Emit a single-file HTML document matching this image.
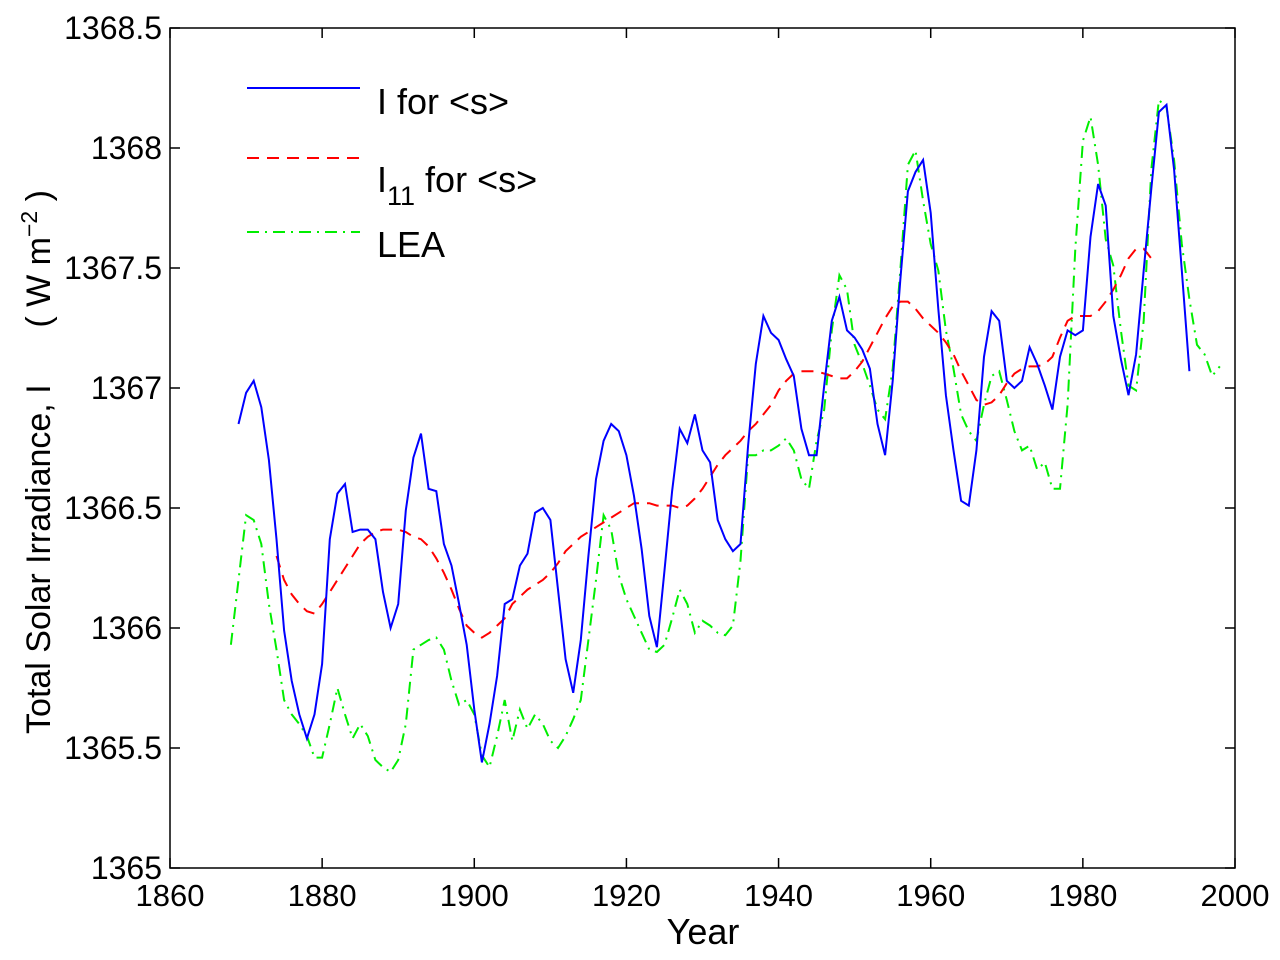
<!DOCTYPE html>
<html><head><meta charset="utf-8"><style>
html,body{margin:0;padding:0;background:#fff;}
svg text{font-family:"Liberation Sans",Arial,sans-serif;fill:#000;}
</style></head><body>
<svg id="chart" width="1280" height="955" viewBox="0 0 1280 955" xmlns="http://www.w3.org/2000/svg">
<rect x="0" y="0" width="1280" height="955" fill="#fff"/>
<g id="ticks"></g>
<g id="series"></g>
<rect x="170" y="28" width="1065" height="840" fill="none" stroke="#000" stroke-width="1.5"/>
<text x="703" y="944" font-size="36" text-anchor="middle">Year</text>
<text transform="translate(50,462) rotate(-90)" font-size="34" text-anchor="middle" style="white-space:pre" xml:space="preserve">Total Solar Irradiance, I      ( W m<tspan dy="-13" font-size="23">−2</tspan><tspan dy="13"> )</tspan></text>
<g>
<line x1="247" y1="88" x2="360" y2="88" stroke="#0000ff" stroke-width="2"/>
<text x="377" y="114" font-size="36">I for &lt;s&gt;</text>
<line x1="247" y1="158" x2="360" y2="158" stroke="#ff0000" stroke-width="2" stroke-dasharray="12,8"/>
<text x="377" y="192" font-size="36">I<tspan dy="13" font-size="27">11</tspan><tspan dy="-13"> for &lt;s&gt;</tspan></text>
<line x1="247" y1="232" x2="360" y2="232" stroke="#00ee00" stroke-width="2" stroke-dasharray="12,6,2,6"/>
<text x="377" y="257" font-size="36">LEA</text>
</g>
</svg>
<script>
const xTicks=[1860,1880,1900,1920,1940,1960,1980,2000];
const yTicks=[1365,1365.5,1366,1366.5,1367,1367.5,1368,1368.5];
const yearsI=[];for(let y=1869;y<=1994;y++)yearsI.push(y);
const valuesI=[1366.85,1366.98,1367.03,1366.92,1366.70,1366.37,1365.99,1365.78,1365.64,1365.54,1365.64,1365.85,1366.37,1366.56,1366.60,1366.40,1366.41,1366.41,1366.37,1366.15,1366.00,1366.10,1366.49,1366.71,1366.81,1366.58,1366.57,1366.35,1366.26,1366.10,1365.93,1365.66,1365.44,1365.60,1365.80,1366.10,1366.12,1366.26,1366.31,1366.48,1366.50,1366.45,1366.16,1365.87,1365.73,1365.95,1366.30,1366.62,1366.78,1366.85,1366.82,1366.72,1366.55,1366.33,1366.05,1365.92,1366.24,1366.57,1366.83,1366.77,1366.89,1366.74,1366.69,1366.45,1366.37,1366.32,1366.35,1366.76,1367.10,1367.30,1367.23,1367.20,1367.12,1367.05,1366.83,1366.72,1366.72,1367.01,1367.28,1367.38,1367.24,1367.21,1367.16,1367.08,1366.85,1366.72,1367.03,1367.45,1367.82,1367.90,1367.95,1367.73,1367.33,1366.97,1366.74,1366.53,1366.51,1366.74,1367.13,1367.32,1367.28,1367.03,1367.00,1367.03,1367.17,1367.10,1367.01,1366.91,1367.13,1367.24,1367.22,1367.24,1367.63,1367.85,1367.76,1367.30,1367.12,1366.97,1367.14,1367.49,1367.83,1368.15,1368.18,1367.91,1367.49,1367.07];
const yearsI11=[];for(let y=1874;y<=1989;y++)yearsI11.push(y);
const valuesI11=[1366.30,1366.20,1366.14,1366.10,1366.07,1366.06,1366.10,1366.15,1366.20,1366.25,1366.30,1366.35,1366.38,1366.40,1366.41,1366.41,1366.41,1366.40,1366.38,1366.37,1366.34,1366.29,1366.23,1366.16,1366.08,1366.01,1365.98,1365.96,1365.98,1366.01,1366.04,1366.10,1366.13,1366.16,1366.18,1366.20,1366.23,1366.27,1366.32,1366.35,1366.38,1366.40,1366.42,1366.44,1366.46,1366.48,1366.50,1366.52,1366.52,1366.52,1366.51,1366.51,1366.51,1366.50,1366.51,1366.54,1366.58,1366.63,1366.68,1366.72,1366.75,1366.78,1366.82,1366.85,1366.89,1366.93,1366.99,1367.03,1367.06,1367.07,1367.07,1367.07,1367.06,1367.05,1367.04,1367.04,1367.07,1367.11,1367.17,1367.23,1367.29,1367.34,1367.36,1367.36,1367.33,1367.29,1367.26,1367.23,1367.19,1367.14,1367.07,1367.01,1366.95,1366.93,1366.94,1366.97,1367.02,1367.06,1367.08,1367.09,1367.09,1367.10,1367.13,1367.21,1367.28,1367.30,1367.30,1367.30,1367.32,1367.36,1367.41,1367.47,1367.54,1367.58,1367.58,1367.54];
const yearsLEA=[];for(let y=1868;y<=1998;y++)yearsLEA.push(y);
const valuesLEA=[1365.93,1366.20,1366.47,1366.45,1366.35,1366.10,1365.91,1365.70,1365.64,1365.60,1365.55,1365.46,1365.46,1365.60,1365.75,1365.64,1365.54,1365.60,1365.55,1365.45,1365.42,1365.40,1365.45,1365.60,1365.91,1365.93,1365.95,1365.96,1365.91,1365.78,1365.68,1365.70,1365.64,1365.47,1365.42,1365.55,1365.70,1365.53,1365.66,1365.58,1365.64,1365.60,1365.53,1365.50,1365.55,1365.62,1365.70,1365.95,1366.20,1366.47,1366.41,1366.22,1366.12,1366.05,1365.98,1365.91,1365.90,1365.93,1366.04,1366.16,1366.10,1365.98,1366.03,1366.01,1365.98,1365.97,1366.01,1366.28,1366.72,1366.72,1366.74,1366.74,1366.76,1366.79,1366.74,1366.62,1366.58,1366.78,1366.91,1367.24,1367.47,1367.41,1367.18,1367.10,1367.01,1366.91,1366.87,1367.08,1367.49,1367.93,1367.99,1367.78,1367.60,1367.49,1367.24,1367.08,1366.89,1366.82,1366.78,1366.93,1367.05,1367.07,1366.95,1366.82,1366.74,1366.76,1366.66,1366.69,1366.58,1366.58,1366.93,1367.58,1368.03,1368.13,1367.93,1367.62,1367.51,1367.24,1367.01,1366.99,1367.28,1367.91,1368.20,1368.17,1367.95,1367.60,1367.37,1367.18,1367.14,1367.05,1367.09];
const X0=170,X1=1235,Y0=868,Y1=28;
function sx(v){return X0+(v-1860)/(2000-1860)*(X1-X0);}
function sy(v){return Y0-(v-1365)/(1368.5-1365)*(Y0-Y1);}
const NS='http://www.w3.org/2000/svg';
const tg=document.getElementById('ticks');
xTicks.forEach(t=>{
 const x=sx(t);
 const p=document.createElementNS(NS,'path');
 p.setAttribute('d',`M${x},${Y0}v-10M${x},${Y1}v10`);
 p.setAttribute('stroke','#000');p.setAttribute('stroke-width','1.5');
 
 
 tg.appendChild(p);
 const tx=document.createElementNS(NS,'text');
 tx.setAttribute('x',x);tx.setAttribute('y',906);tx.setAttribute('font-size','31');tx.setAttribute('text-anchor','middle');
 tx.textContent=t;
 
 
 tg.appendChild(tx);
});
yTicks.forEach(t=>{
 const y=sy(t);
 const p=document.createElementNS(NS,'path');
 p.setAttribute('d',`M${X0},${y}h10M${X1},${y}h-10`);
 p.setAttribute('stroke','#000');p.setAttribute('stroke-width','1.5');
 
 
 tg.appendChild(p);
 const tx=document.createElementNS(NS,'text');
 tx.setAttribute('x',162);tx.setAttribute('y',y+11);tx.setAttribute('font-size','32');tx.setAttribute('text-anchor','end');
 tx.textContent=String(t);
 
 
 tg.appendChild(tx);
});
const sg=document.getElementById('series');
function line(xs,vs,color,dash,name){
 const p=document.createElementNS(NS,'polyline');
 p.setAttribute('points',xs.map((x,i)=>sx(x).toFixed(1)+','+sy(vs[i]).toFixed(1)).join(' '));
 p.setAttribute('fill','none');p.setAttribute('stroke',color);p.setAttribute('stroke-width','2');
 if(dash)p.setAttribute('stroke-dasharray',dash);
 
 
 sg.appendChild(p);
}
line(yearsLEA,valuesLEA,'#00ee00','12,6,2,6','lea-line');
line(yearsI11,valuesI11,'#ff0000','12,8','i11-line');
line(yearsI,valuesI,'#0000ff',null,'i-line');
</script>
</body></html>
